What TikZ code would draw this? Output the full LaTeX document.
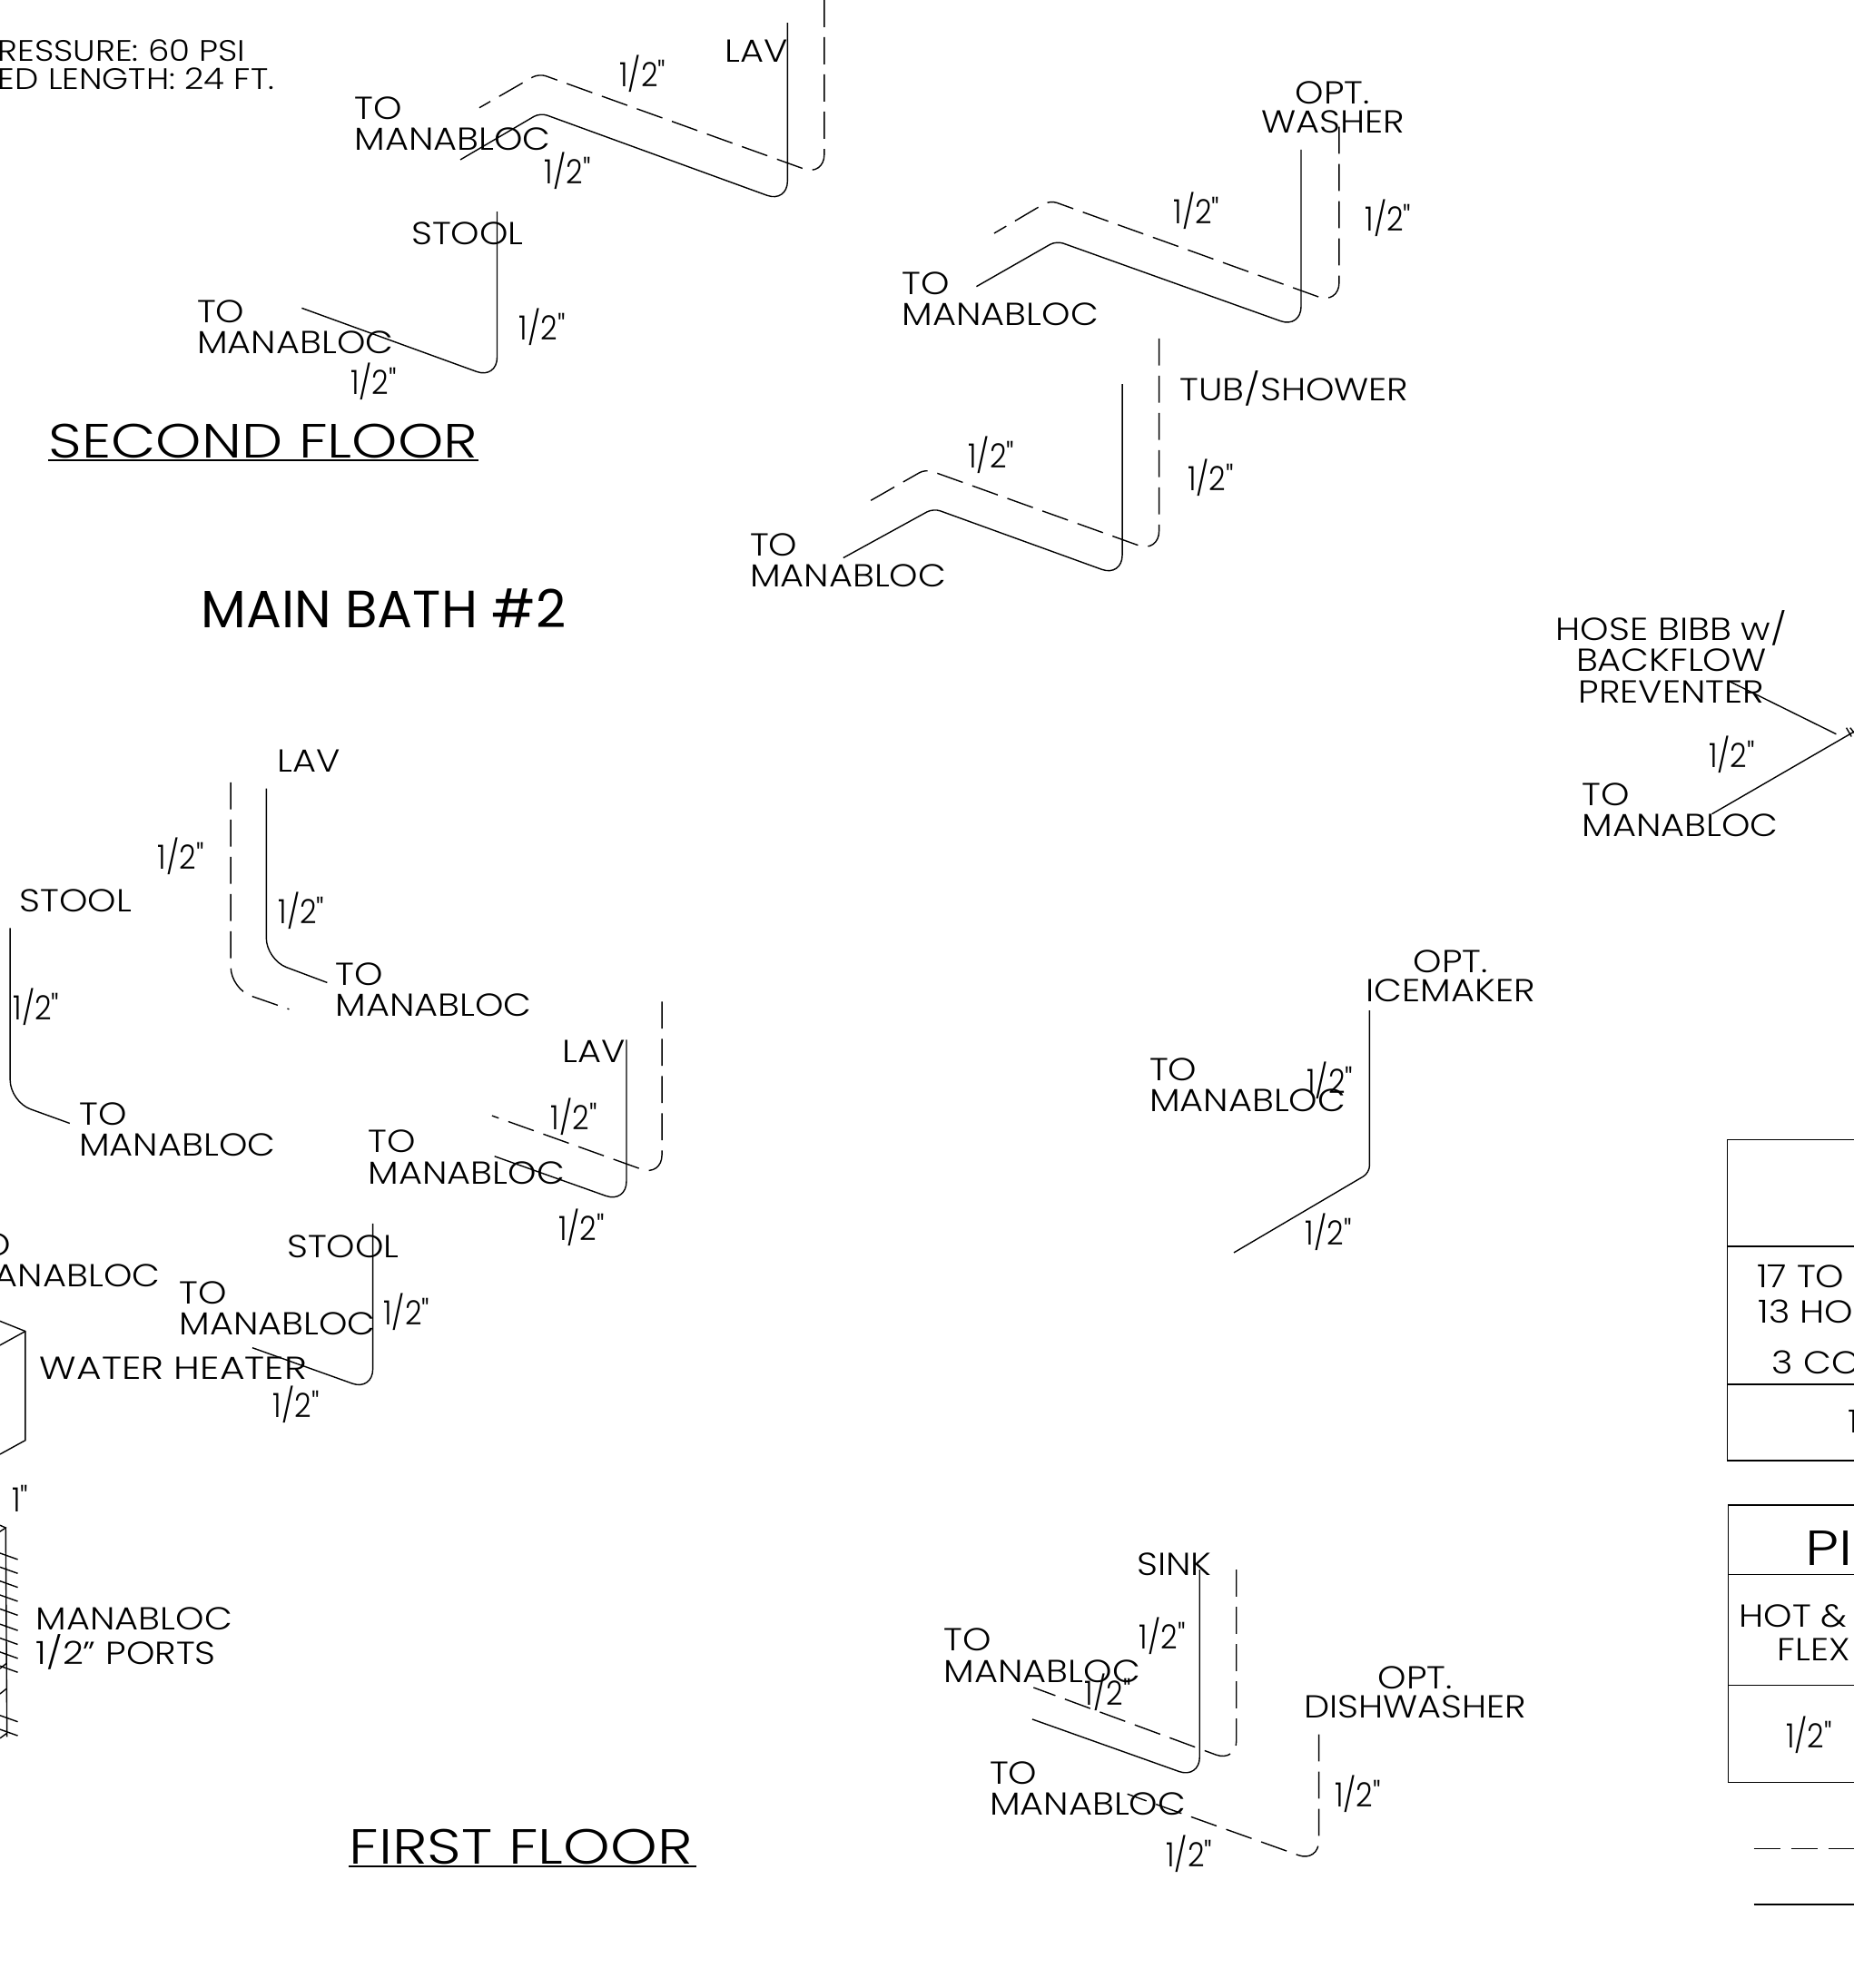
\documentclass[tikz,border=0pt]{standalone}
\usepackage{fontspec}
\setmainfont[UprightFont=* Light,FakeStretch=1.14]{Poppins}
\newfontfamily\widefont[UprightFont=* Light,FakeStretch=1.21]{Poppins}
\newfontfamily\halffont[UprightFont=* Light,FakeStretch=0.88]{Poppins}
\newfontfamily\bathfont{Poppins}
\begin{document}
\begin{tikzpicture}[x=0.014cm,y=-0.014cm,line width=0.4pt,
  lbl/.style={anchor=north west,inner sep=0pt,align=left,font=\fontsize{10}{9.8}\selectfont},
  mid/.style={anchor=north,inner sep=0pt,align=center,font=\fontsize{10}{9}\selectfont},
  half/.style={anchor=north west,inner sep=0pt,yshift=.056cm,font=\fontsize{10.5}{10.5}\selectfont\halffont},
  big/.style={anchor=north west,inner sep=0pt,font=\fontsize{15.5}{15.5}\selectfont\widefont},
  pipe/.style={draw,rounded corners=.24cm},
  hid/.style={draw,rounded corners=.24cm,dash pattern=on 8.5pt off 3.2pt}]
\clip (0,0) rectangle (1462,1568);
\fill[white] (0,0) rectangle (1462,1568);

\node (press)[lbl,font=\fontsize{9.3}{9.3}\selectfont] at (-2,31) {RESSURE: 60 PSI};
\node (leng)[lbl,font=\fontsize{9.3}{9.3}\selectfont] at (-2,53) {ED LENGTH: 24 FT.};
\node (sec)[big,font=\fontsize{15.1}{15.1}\selectfont\widefont] at (38,334) {SECOND FLOOR};
\node (bath)[big,font=\fontsize{16.5}{16.5}\selectfont\bathfont] at (158,464) {MAIN BATH \#2};
\node (fir)[big] at (275,1442) {FIRST FLOOR};
\draw (38,363) -- (377,363);
\draw (275,1472) -- (549,1472);

\node (lav1)[lbl] at (571,31) {LAV};
\node (to1)[lbl] at (279,76) {TO\\MANABLOC};
\node (h1)[half] at (488,47) {1/2"};
\node (h2)[half] at (429,124) {1/2"};
\coordinate (a1) at (621,18);
\coordinate (a2) at (621,160);
\coordinate (a3) at (426,89);
\coordinate (a4) at (363,126);
\path[pipe] (a1) -- (a2) [rounded corners=.08cm] -- (a3) -- (a4);
\coordinate (b1) at (650,0);
\coordinate (b2) at (650,139);
\coordinate (b3) at (425,58);
\coordinate (b4) at (378,85);
\path[hid] (b1) -- (b2) [rounded corners=.08cm] -- (b3) -- (b4);

\node (st1)[lbl] at (324,175) {STOOL};
\node (to2)[lbl] at (155,236) {TO\\MANABLOC};
\node (h3)[half] at (409,247) {1/2"};
\node (h4)[half] at (276,290) {1/2"};
\coordinate (c1) at (392,167);
\coordinate (c2) at (392,299);
\coordinate (c3) at (238,243);
\path[pipe] (c1) -- (c2) -- (c3);

\node (wash)[mid] at (1051,64) {OPT.\\WASHER};
\node (to3)[lbl] at (711,214) {TO\\MANABLOC};
\node (h5)[half] at (925,155) {1/2"};
\node (h6)[half] at (1076,161) {1/2"};
\coordinate (d1) at (1026,118);
\coordinate (d2) at (1026,259);
\coordinate (d3) at (833,190);
\coordinate (d4) at (770,226);
\path[pipe] (d1) -- (d2) [rounded corners=.08cm] -- (d3) -- (d4);
\coordinate (e1) at (1056,100);
\coordinate (e2) at (1056,240);
\coordinate (e3) at (828,158);
\coordinate (e4) at (784,184);
\path[hid] (e1) -- (e2) [rounded corners=.08cm] -- (e3) -- (e4);

\node (tub)[lbl] at (930,292) {TUB/SHOWER};
\node (to4)[lbl] at (591,420) {TO\\MANABLOC};
\node (h7)[half] at (763,348) {1/2"};
\node (h8)[half] at (936,366) {1/2"};
\coordinate (f1) at (885,303);
\coordinate (f2) at (885,455);
\coordinate (f3) at (736,401);
\coordinate (f4) at (665,440);
\path[pipe] (f1) -- (f2) [rounded corners=.08cm] -- (f3) -- (f4);
\coordinate (g1) at (914,267);
\coordinate (g2) at (914,436);
\coordinate (g3) at (730,370);
\coordinate (g4) at (681,398);
\path[hid] (g1) -- (g2) [rounded corners=.08cm] -- (g3) -- (g4);

\node (hose)[mid,font=\fontsize{10}{9.8}\selectfont] at (1318,481) {HOSE BIBB w/\\BACKFLOW\\PREVENTER};
\node (to5)[lbl] at (1247,617) {TO\\MANABLOC};
\node (h9)[half] at (1347,584) {1/2"};
\coordinate (k1) at (1363,537);
\coordinate (k2) at (1448,579);
\coordinate (k3) at (1350,642);
\coordinate (k4) at (1464,576);
\draw (k1) -- (k2);
\draw (k3) -- (k4);
\draw (1456,574) -- (1460,581);
\draw (1459,574) -- (1463,579);

\node (ice)[mid] at (1144,749) {OPT.\\ICEMAKER};
\node (to6)[lbl] at (906,834) {TO\\MANABLOC};
\node (h10)[half] at (1030,841) {1/2"};
\node (h11)[half] at (1029,961) {1/2"};
\coordinate (m1) at (1080,797);
\coordinate (m2) at (1080,925);
\coordinate (m3) at (973,988);
\path[draw,rounded corners=.08cm] (m1) -- (m2) -- (m3);

\node (lav2)[lbl] at (218,591) {LAV};
\node (to7)[lbl] at (264,759) {TO\\MANABLOC};
\node (h12)[half] at (124,664) {1/2"};
\node (h13)[half] at (219,707) {1/2"};
\coordinate (n1) at (210,622);
\coordinate (n2) at (210,757);
\coordinate (n3) at (258,775);
\path[pipe] (n1) -- (n2) -- (n3);
\coordinate (o1) at (182,617);
\coordinate (o2) at (182,780);
\coordinate (o3) at (228,796);
\path[hid] (o1) -- (o2) -- (o3);

\node (st2)[lbl] at (15,701) {STOOL};
\node (to8)[lbl] at (62,869) {TO\\MANABLOC};
\node (h14)[half] at (10,783) {1/2"};
\coordinate (p1) at (8,732);
\coordinate (p2) at (8,869);
\coordinate (p3) at (55,886);
\path[pipe] (p1) -- (p2) -- (p3);

\node (lav3)[lbl] at (443,820) {LAV};
\node (to9)[lbl] at (290,891) {TO\\MANABLOC};
\node (h15)[half] at (434,870) {1/2"};
\node (h16)[half] at (440,957) {1/2"};
\coordinate (q1) at (494,820);
\coordinate (q2) at (494,949);
\coordinate (q3) at (390,912);
\path[pipe] (q1) -- (q2) -- (q3);
\coordinate (r1) at (522,790);
\coordinate (r2) at (522,928);
\coordinate (r3) at (388,880);
\path[hid] (r1) -- (r2) -- (r3);

\node (st3)[lbl] at (226,974) {STOOL};
\node (to10)[lbl] at (-29,972) {TO\\MANABLOC};
\node (to11)[lbl] at (141,1010) {TO\\MANABLOC};
\node (h17)[half] at (302,1024) {1/2"};
\node (h18)[half] at (215,1097) {1/2"};
\coordinate (s1) at (294,965);
\coordinate (s2) at (294,1097);
\coordinate (s3) at (199,1063);
\path[pipe] (s1) -- (s2) -- (s3);

\node (wat)[lbl,font=\fontsize{10}{9.8}\selectfont\widefont] at (31,1070) {WATER HEATER};
\draw (0,1042) -- (20,1050) -- (20,1136) -- (0,1147);
\draw (20,1050) -- (0,1061);

\node (one)[half] at (9,1175) {1"};
\node (man)[lbl] at (28,1267) {MANABLOC\\[1.3pt]1/2" PORTS};
\draw (4.5,1205) -- (5.5,1370);
\draw (0,1203) -- (4.5,1205) -- (0,1208);
\draw (5,1312) -- (0,1316);
\draw (5,1332) -- (0,1336);
\draw (5.5,1367) -- (0,1371);
\foreach \y in {1230,1241,1252,1263,1274,1286,1297,1308,1319,1358,1369}
  \draw (0,\y-5) -- (14,\y);

\node (sink)[lbl] at (896,1224) {SINK};
\node (to12)[lbl] at (744,1284) {TO\\MANABLOC};
\node (to13)[lbl] at (780,1389) {TO\\MANABLOC};
\node (h19)[half] at (898,1279) {1/2"};
\node (h20)[half] at (855,1324) {1/2"};
\coordinate (t1) at (946,1238);
\coordinate (t2) at (946,1403);
\coordinate (t3) at (814,1356);
\path[pipe] (t1) -- (t2) -- (t3);
\coordinate (u1) at (975,1238);
\coordinate (u2) at (975,1390);
\coordinate (u3) at (815,1331);
\path[hid] (u1) -- (u2) -- (u3);

\node (dish)[mid] at (1116,1314) {OPT.\\DISHWASHER};
\node (h21)[half] at (1052,1404) {1/2"};
\node (h22)[half] at (919,1451) {1/2"};
\coordinate (v1) at (1040,1368);
\coordinate (v2) at (1040,1469);
\coordinate (v3) at (889,1415);
\path[hid] (v1) -- (v2) -- (v3);

\draw (1470,899) -- (1362,899) -- (1362,1152) -- (1470,1152);
\draw (1362,983) -- (1470,983);
\draw (1362,1092) -- (1470,1092);
\node (n17)[lbl] at (1385,997) {17 TO};
\node (n13)[lbl] at (1386,1025) {13 HO};
\node (n3)[lbl] at (1397,1065) {3 CO};
\node (n1)[lbl] at (1457,1112) {1};

\draw (1470,1187) -- (1363,1187) -- (1363,1406) -- (1470,1406);
\draw (1363,1242) -- (1470,1242);
\draw (1363,1329) -- (1470,1329);
\node (pi)[big] at (1423,1207) {PI};
\node (hot)[lbl] at (1371,1265) {HOT \&};
\node (flex)[lbl] at (1401,1292) {FLEX};
\node (h23)[half] at (1408,1357) {1/2"};

\draw[dash pattern=on 8.5pt off 3.2pt] (1383,1458) -- (1470,1458);
\draw (1383,1502) -- (1470,1502);
\end{tikzpicture}
\end{document}
